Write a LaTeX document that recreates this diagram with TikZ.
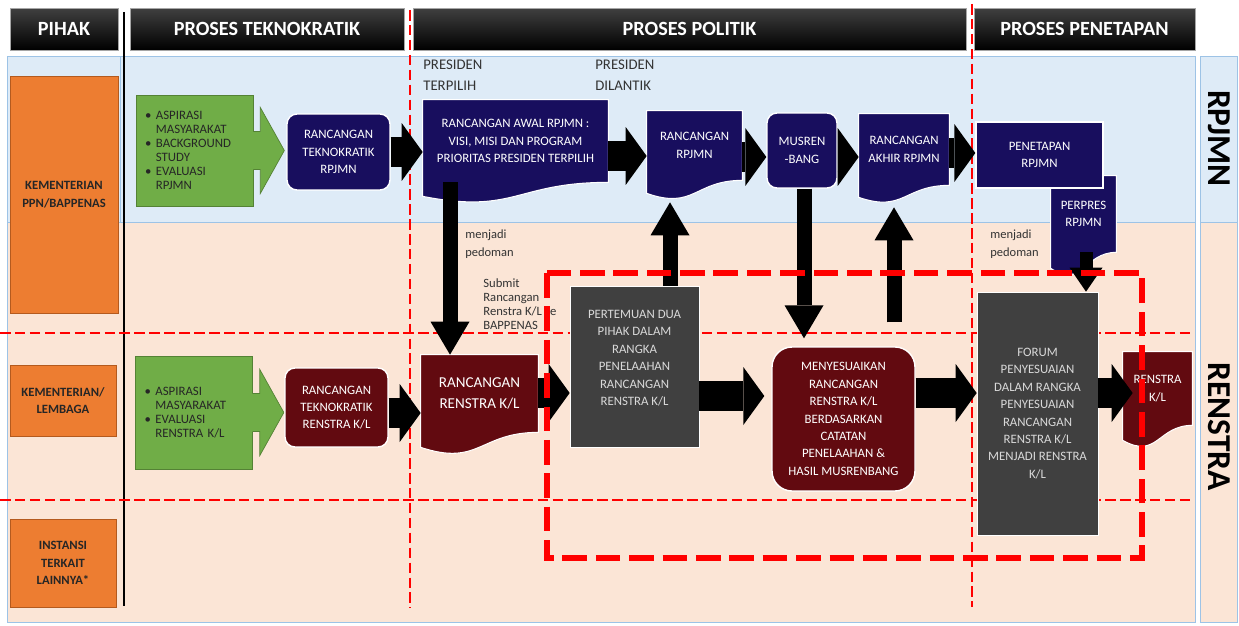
\documentclass[tikz,border=0pt]{standalone}
\usepackage{fontspec}
\setmainfont{Carlito}
\usepackage{tikz}
\usetikzlibrary{calc, arrows.meta, positioning}
\usepackage{xcolor}

\definecolor{navy}{RGB}{24,14,94}
\definecolor{maroon}{RGB}{98,10,16}
\definecolor{slate}{RGB}{64,64,64}
\definecolor{leaf}{RGB}{112,173,71}
\definecolor{leafline}{RGB}{84,130,53}
\definecolor{orng}{RGB}{237,125,49}
\definecolor{orngline}{RGB}{180,90,30}
\definecolor{skyband}{RGB}{222,235,247}
\definecolor{peachband}{RGB}{251,229,214}
\definecolor{bandline}{RGB}{157,195,230}
\definecolor{dashred}{RGB}{255,0,0}

\newcommand{\bul}{\makebox[6.2pt][l]{\textbullet}}
\newcommand{\nob}{\hspace*{6.2pt}}

% wavy bottom of a document shape
\newcommand{\docwave}[3]{%
	\fill[#2] ($(#1.south east)+(0,-1)$) -- (#1.south east) .. controls (#1.south) and ($(#1.south)+(0,2.3*#3)$) .. ($(#1.south west)+(0,#3)$) -- ($(#1.south west)+(0,-1)$) -- cycle;
	\draw[white, semithick] (#1.north west) -- (#1.north east) -- (#1.south east) .. controls (#1.south) and ($(#1.south)+(0,2.3*#3)$) .. ($(#1.south west)+(0,#3)$) -- cycle;}

% arrow part of the green boxes
\newcommand{\leaftip}[1]{%
	\fill[leaf] ($(#1.east)+(-1,-19)$) -- ++(8,0) -- ++(0,-24) -- ($(#1.east)+(31,0)$) -- ($(#1.east)+(7,43)$) -- ++(0,-24) -- ($(#1.east)+(-1,19)$) -- cycle;
	\draw[leafline] ($(#1.east)+(0,-19)$) -- ++(7,0) -- ++(0,-24) -- ($(#1.east)+(31,0)$) -- ($(#1.east)+(7,43)$) -- ++(0,-24) -- ($(#1.east)+(0,19)$);}

\begin{document}
\begin{tikzpicture}[x = 0.02cm, y = -0.02cm, font = \fontsize{7.3}{9.9}\selectfont]
			\tikzstyle{banner} = [draw=black!35, top color=black!75, bottom color=black, text=white, font=\fontsize{11.5}{13}\selectfont\bfseries, minimum height=0.84cm, inner sep=0]
			\tikzstyle{party} = [draw=orngline, fill=orng, text=black!85, font=\fontsize{7.2}{10}\selectfont\bfseries, align=center, inner sep=0]
			\tikzstyle{leafbox} = [draw=leafline, fill=leaf, text=black!85, font=\fontsize{7.3}{8}\selectfont, align=left, text width=1.98cm, inner xsep=0.18cm, inner ysep=0]
			\tikzstyle{navyround} = [draw=white, thick, fill=navy, text=white, align=center, rounded corners=0.2cm, inner sep=0]
			\tikzstyle{maroonround} = [navyround, fill=maroon]
			\tikzstyle{doc} = [text=white, align=center, inner sep=0]
			\tikzstyle{slatebox} = [draw=white, fill=slate, text=white!85!black, align=center, inner sep=0]
			\tikzstyle{remark} = [text=black!80, align=left, anchor=west, inner sep=0]
			\tikzstyle{sidelabel} = [font=\fontsize{19}{20}\selectfont\bfseries, rotate=-90]
			\tikzstyle{fatarrow} = [line width=0.6cm, -{Triangle[length=0.42cm, width=1.16cm, line width=0pt]}]
			\tikzstyle{slimarrow} = [line width=0.3cm, -{Triangle[length=0.66cm, width=0.78cm, line width=0pt]}]
			\tikzstyle{smallarrow} = [line width=0.26cm, -{Triangle[length=0.48cm, width=0.66cm, line width=0pt]}]
			\tikzstyle{thinred} = [draw=dashred, line width=1.6pt, dash pattern=on 6pt off 2.5pt]
			\tikzstyle{thickred} = [draw=dashred, line width=3.4pt, dash pattern=on 14pt off 5pt]

			\useasboundingbox (0, 0) rectangle (1239, 625);

			\fill[skyband] 		(7, 56) rectangle (1195, 222);
			\fill[peachband] 	(7, 222) rectangle (1195, 622);
			\fill[skyband] 		(1200, 56) rectangle (1237, 222);
			\fill[peachband] 	(1200, 222) rectangle (1237, 622);
			\draw[bandline] (7, 56) rectangle (120, 222) (120, 56) rectangle (1195, 222) (7, 222) rectangle (1195, 622)
				(1200, 56) rectangle (1237, 222) (1200, 222) rectangle (1237, 622);

			\draw[line width=1.7pt] (124, 12) -- (124, 606);
			\draw[thinred] (410, 10) -- (410, 608) (972, 4) -- (972, 607) (0, 333) -- (1190, 333) (0, 500) -- (1190, 500);

			\node[banner, minimum width=2.16cm] 	at (64, 29) 		(hPihak) 	{PIHAK};
			\node[banner, minimum width=5.48cm] 	at (267, 29) 		(hTekno) 	{PROSES TEKNOKRATIK};
			\node[banner, minimum width=11.06cm] 	at (689.5, 29) 		(hPolitik) 	{PROSES POLITIK};
			\node[banner, minimum width=4.42cm] 	at (1084.5, 29) 	(hTetap) 	{PROSES PENETAPAN};

			\node[party, minimum width=2.16cm, minimum height=4.74cm] 	at (64, 194.5) 	(pBappenas) 	{KEMENTERIAN\\PPN/BAPPENAS};
			\node[party, minimum width=2.12cm, minimum height=1.42cm] 	at (63, 400.5) 	(pKL) 			{KEMENTERIAN/\\LEMBAGA};
			\node[party, minimum width=2.12cm, minimum height=1.76cm] 	at (63, 563) 	(pLain) 		{INSTANSI\\TERKAIT\\LAINNYA*};

			\node[leafbox, minimum height=2.22cm] 	at (194.5, 150.5) 	(lRpjmn) 	{\bul ASPIRASI\\\nob MASYARAKAT\\\bul BACKGROUND\\\nob STUDY\\\bul EVALUASI\\\nob RPJMN};
			\leaftip{lRpjmn}
			\node[leafbox, minimum height=2.26cm] 	at (194, 412.5) 	(lRenstra) 	{\bul ASPIRASI\\\nob MASYARAKAT\\\bul EVALUASI\\\nob RENSTRA K/L};
			\leaftip{lRenstra}

			\node[navyround, minimum width=2.06cm, minimum height=1.52cm] 	at (338.5, 152) 	(nTekRpjmn) 	{RANCANGAN\\TEKNOKRATIK\\RPJMN};
			\node[doc, fill=navy, minimum width=3.7cm, minimum height=1.64cm] 	at (515.5, 141) 	(nAwal) 	{RANCANGAN AWAL RPJMN :\\VISI, MISI DAN PROGRAM\\PRIORITAS PRESIDEN TERPILIH};
			\docwave{nAwal}{navy}{14}
			\node[doc, fill=navy, minimum width=1.9cm, minimum height=1.38cm] 	at (694.5, 145.5) 	(nRpjmn) 	{RANCANGAN\\RPJMN};
			\docwave{nRpjmn}{navy}{13}
			\node[navyround, minimum width=1.4cm, minimum height=1.5cm] 	at (802, 150.5) 	(nMusren) 	{MUSREN\\-BANG};
			\node[doc, fill=navy, minimum width=1.8cm, minimum height=1.42cm] 	at (904, 149.5) 	(nAkhir) 	{RANCANGAN\\AKHIR RPJMN};
			\docwave{nAkhir}{navy}{12}
			\node[doc, fill=navy, minimum width=1.3cm, minimum height=1.52cm] 	at (1083.5, 214) 	(nPerpres) 	{PERPRES\\RPJMN};
			\docwave{nPerpres}{navy}{16}
			\node[navyround, sharp corners, minimum width=2.54cm, minimum height=1.32cm] 	at (1039.5, 155) 	(nTetap) 	{PENETAPAN\\RPJMN};

			\node[maroonround, minimum width=2.06cm, minimum height=1.58cm] 	at (336.5, 407.5) 	(mTekRenstra) 	{RANCANGAN\\TEKNOKRATIK\\RENSTRA K/L};
			\node[doc, fill=maroon, font=\fontsize{8.6}{12}\selectfont, minimum width=2.34cm, minimum height=1.54cm] 	at (479.5, 393.5) 	(mRenstra) 	{RANCANGAN\\RENSTRA K/L};
			\docwave{mRenstra}{maroon}{15}
			\node[slatebox, minimum width=2.58cm, minimum height=3.22cm] 	at (634.5, 366.5) 	(sTemu) 	{PERTEMUAN DUA\\PIHAK DALAM\\RANGKA\\PENELAAHAN\\RANCANGAN\\RENSTRA K/L\\\mbox{}};
			\node[maroonround, rounded corners=0.4cm, minimum width=2.86cm, minimum height=2.88cm] 	at (843.5, 419) 	(mSesuai) 	{MENYESUAIKAN\\RANCANGAN\\RENSTRA K/L\\BERDASARKAN\\CATATAN\\PENELAAHAN \&\\HASIL MUSRENBANG};
			\node[slatebox, minimum width=2.42cm, minimum height=4.86cm] 	at (1037.5, 413.5) 	(sForum) 	{FORUM\\PENYESUAIAN\\DALAM RANGKA\\PENYESUAIAN\\RANCANGAN\\RENSTRA K/L\\MENJADI RENSTRA\\K/L};
			\node[doc, fill=maroon, minimum width=1.38cm, minimum height=1.46cm] 	at (1157.5, 388.5) 	(mRenstraAkhir) 	{RENSTRA\\K/L};
			\docwave{mRenstraAkhir}{maroon}{15}

			\node[remark, font=\fontsize{8.4}{12}\selectfont] 	at (423, 75.5) 	(tTerpilih) 	{PRESIDEN\\TERPILIH};
			\node[remark, font=\fontsize{8.4}{12}\selectfont] 	at (595, 75.5) 	(tDilantik) 	{PRESIDEN\\DILANTIK};
			\node[remark, font=\fontsize{7.1}{10}\selectfont] 	at (465, 244) 	(tPedomanA) 	{menjadi\\pedoman};
			\node[remark, font=\fontsize{7.2}{8}\selectfont] 	at (483, 304) 	(tSubmit) 		{Submit\\Rancangan\\Renstra K/L ke\\BAPPENAS};
			\node[remark, font=\fontsize{7.1}{10}\selectfont] 	at (990, 244) 	(tPedomanB) 	{menjadi\\pedoman};

			\node[sidelabel] 	at (1219, 138.5) 	(sdRpjmn) 		{RPJMN};
			\node[sidelabel] 	at (1219, 426.5) 	(sdRenstra) 	{RENSTRA};

			\path[fatarrow]
			(nTekRpjmn.east) 			edge 						(nTekRpjmn.east -| nAwal.west)
			(nAwal.east |- 0,156) 		edge 						(nRpjmn.west |- 0,156)
			(nRpjmn.east |- 0,157) 		edge 						(nMusren.west |- 0,157)
			(nMusren.east |- 0,157) 	edge 						(nAkhir.west |- 0,157)
			(nAkhir.east |- 0,153) 		edge 						(nTetap.west |- 0,153)
			(mTekRenstra.east |- 0,413) edge 						(mRenstra.west |- 0,413)
			(mRenstra.east |- 0,393) 	edge 						(sTemu.west |- 0,393)
			(sTemu.east |- 0,396) 		edge[shorten >=0.14cm] 		(mSesuai.west |- 0,396)
			(mSesuai.east |- 0,393) 	edge 						(sForum.west |- 0,393)
			(sForum.east |- 0,393) 		edge[shorten >=-0.2cm] 		(mRenstraAkhir.west |- 0,393);

			\path[slimarrow]
			(nAwal.south -| 450,0) 		edge 											(mRenstra.north -| 450,0)
			(sTemu.north -| 670,0) 		edge[shorten >=0.44cm] 							(nRpjmn.south -| 670,0)
			(nMusren.south -| 804,0) 	edge[shorten >=0.16cm] 							(mSesuai.north -| 804,0)
			(mSesuai.north -| 894,0) 	edge[shorten <=0.48cm, shorten >=0.44cm] 		(nAkhir.south -| 894,0);

			\path[smallarrow]
			(nPerpres.south -| 1086,0) 	edge 	(sForum.north -| 1086,0);

			\draw[thickred] (547, 273) rectangle (1142, 558);
		\end{tikzpicture}
\end{document}
